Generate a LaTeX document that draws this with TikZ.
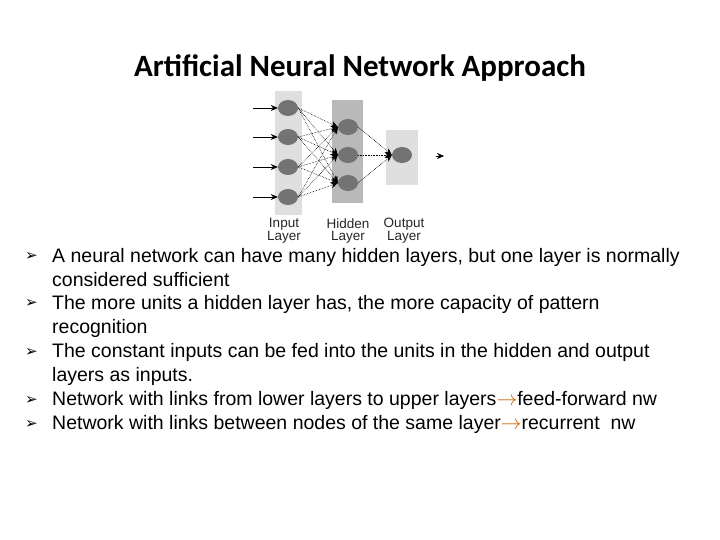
\documentclass[tikz,border=0pt]{standalone}
\usepackage{fontspec}
\setmainfont{Liberation Sans}
\newfontfamily\titlefont{Carlito}
\newfontfamily\dingfont{DejaVu Sans}
\usetikzlibrary{arrows.meta,shapes.geometric}
\begin{document}
\begin{tikzpicture}[x=1pt,y=-1pt,
  neuron/.style={ellipse,fill=black!55,minimum width=20pt,minimum height=16pt,inner sep=0pt},
  link/.style={densely dotted,semithick,-{Stealth[length=7pt,width=6pt]},black},
  inarr/.style={semithick,-{Stealth[length=7pt,width=6pt]},black},
  lbl/.style={font=\fontsize{13.5}{12}\selectfont,align=center,text=black!85},
  bul/.style={anchor=west,font=\fontsize{19.5}{24}\selectfont,align=left,inner sep=0pt},
  mk/.style={anchor=west,font=\dingfont\fontsize{15}{16}\selectfont,inner sep=0pt}]
\useasboundingbox (0,0) rectangle (720,540);
\node[font=\titlefont\bfseries\fontsize{31}{34}\selectfont] (title) at (360,68) {Artificial Neural Network Approach};
% bands
\fill[gray!25] (275,91) rectangle (302,215);
\fill[gray!55] (332,100) rectangle (363,203);
\fill[gray!25] (386,130) rectangle (418,185);
\foreach \i/\y in {1/108,2/137,3/167,4/197} {
  \node[neuron] (i\i) at (288,\y) {};
  \coordinate (s\i) at (253,\y);
  \draw[inarr] (s\i) -- (i\i.west);
}
\foreach \i/\y in {1/127,2/155,3/183} \node[neuron] (h\i) at (348,\y) {};
\node[neuron] (o) at (402,155) {};
\foreach \a in {1,2,3,4} \foreach \b in {1,2,3} \draw[link] (i\a.east) -- (h\b.west);
\foreach \b in {1,2,3} \draw[link] (h\b.east) -- (o.west);
\coordinate (oe) at (436,156);
\draw[inarr] (oe) -- (444,156);
\node[lbl] (l1) at (284,231) {Input\\Layer};
\node[lbl] (l2) at (348,231) {Hidden\\Layer};
\node[lbl] (l3) at (404,231) {Output\\Layer};
\foreach \y in {257,304,352,400,424} \node[mk] at (25,\y) {➢};
\node[bul] (b1) at (52,268) {A neural network can have many hidden layers, but one layer is normally\\considered sufficient};
\node[bul] (b2) at (52,316) {The more units a hidden layer has, the more capacity of pattern\\recognition};
\node[bul] (b3) at (52,364) {The constant inputs can be fed into the units in the hidden and output\\layers as inputs.};
\node[bul] (b4) at (52,400) {Network with links from lower layers to upper layers\textcolor{orange!80!black}{$\rightarrow$}feed-forward nw};
\node[bul] (b5) at (52,424) {Network with links between nodes of the same layer\textcolor{orange!80!black}{$\rightarrow$}recurrent\ \ nw};
\end{tikzpicture}
\end{document}
